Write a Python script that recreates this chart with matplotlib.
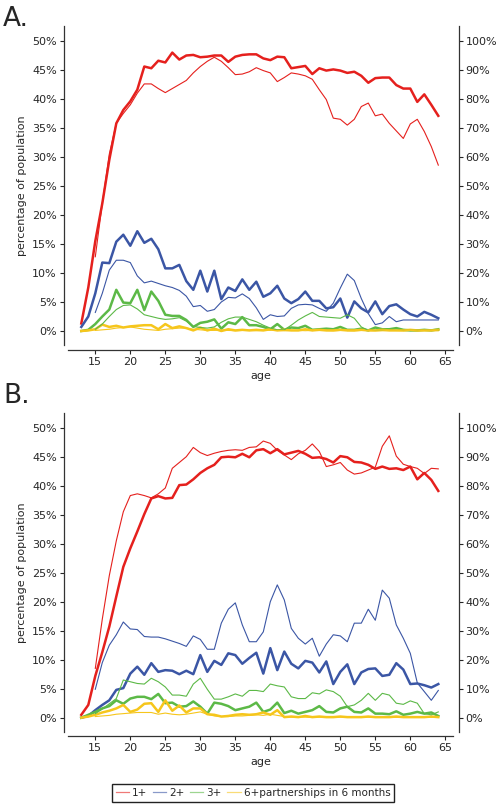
import matplotlib
matplotlib.use("Agg")
from matplotlib import pyplot as plt
from matplotlib.lines import Line2D
from matplotlib.ticker import PercentFormatter

# ages: thick lines start at 13, thin lines at 15
ages = list(range(13, 65))
ages_thin = list(range(15, 65))

labels = ["1+", "2+", "3+", "6+partnerships in 6 months"]
colors = ["#e5201d", "#3b56a5", "#5cb947", "#f6c61c"]

# panel A, thick lines (left axis, %)
a_red = [1.3, 7.5, 15.5, 22, 29.5, 35.8, 38.1, 39.6, 41.6, 45.6,
         45.3, 46.6, 46.3, 48.0, 46.8, 47.5, 47.6, 47.2, 47.3, 47.5,
         47.5, 46.4, 47.3, 47.6, 47.7, 47.7, 47.0, 46.7, 47.3, 47.2,
         45.3, 45.5, 45.7, 44.3, 45.3, 44.9, 45.1, 44.9, 44.5, 44.7,
         44.0, 42.8, 43.6, 43.7, 43.7, 42.4, 41.8, 41.8, 39.5, 40.8,
         39.0, 37.1]
a_blue = [0.7, 2.5, 6.5, 11.8, 11.7, 15.4, 16.6, 14.7, 17.2, 15.2,
          15.9, 14.1, 10.8, 10.8, 11.4, 8.6, 7.1, 10.4, 6.8, 10.4,
          5.5, 7.5, 6.9, 8.9, 7.1, 8.5, 5.9, 6.5, 7.8, 5.6,
          4.8, 5.5, 6.8, 5.2, 5.2, 3.9, 4.1, 5.6, 2.3, 5.1,
          3.9, 3.2, 5.1, 2.9, 4.3, 4.6, 3.7, 2.9, 2.5, 3.3,
          2.8, 2.2]
a_green = [0.0, 0.2, 1.2, 2.5, 3.7, 7.1, 4.9, 4.8, 7.1, 3.6,
           6.8, 5.2, 2.8, 2.6, 2.6, 1.9, 0.7, 1.4, 1.6, 2.0,
           0.4, 1.5, 1.2, 2.4, 1.0, 1.0, 0.7, 0.3, 1.2, 0.2,
           0.6, 0.5, 0.9, 0.2, 0.3, 0.4, 0.3, 0.7, 0.2, 0.2,
           0.4, 0.1, 0.6, 0.3, 0.3, 0.5, 0.2, 0.1, 0.1, 0.2,
           0.1, 0.3]
a_yellow = [0.0, 0.1, 0.3, 1.1, 0.7, 0.9, 0.6, 0.8, 0.9, 1.0,
            1.0, 0.3, 1.2, 0.5, 0.8, 0.5, 0.1, 0.6, 0.1, 0.4,
            0.0, 0.3, 0.1, 0.2, 0.1, 0.2, 0.1, 0.3, 0.1, 0.2,
            0.1, 0.1, 0.3, 0.1, 0.2, 0.1, 0.1, 0.2, 0.1, 0.1,
            0.2, 0.1, 0.1, 0.2, 0.1, 0.1, 0.1, 0.2, 0.1, 0.1,
            0.1, 0.2]

# panel A, thin lines (right axis, %)
a_red_thin = [25.6, 44, 61, 71.6, 75, 78, 82, 85.2, 85.2, 83.6,
              82.2, 83.6, 85, 86.4, 89, 91.2, 93, 94.4, 93, 90.8,
              88.4, 88.6, 89.4, 90.8, 89.8, 89, 86, 87.4, 89, 88.6,
              88, 86.8, 83.2, 79.8, 73.4, 73, 71, 73, 77.4, 78.6,
              74.2, 74.8, 71.6, 69, 66.4, 71.4, 73, 68.8, 63.6, 57.2]
a_blue_thin = [6.4, 13, 21, 24.4, 24.4, 23.6, 19, 16.6, 17.2, 16.4,
               15.6, 15, 14, 12, 8.4, 8.8, 6.8, 7.4, 10, 11.6,
               11.4, 12.8, 11.2, 8, 4, 5.6, 5, 5.2, 7.8, 9,
               9.2, 9, 7.8, 6.8, 9.6, 14.8, 19.6, 17.4, 11.2, 6,
               2.2, 2.8, 5, 3.2, 3.8, 3.8, 3.8, 3.8, 3.8, 3.8]
a_green_thin = [0.6, 2.4, 5, 7.4, 8.8, 9, 7.6, 5.6, 5, 4.4,
                4, 4.2, 4.6, 3.4, 1.6, 1.2, 1, 1.4, 3, 4.2,
                4.8, 4.8, 4, 3.2, 2, 1, 0.4, 0.4, 2, 3.8,
                5.2, 6.4, 5, 4.8, 4.6, 4.4, 5.6, 4.4, 1.4, 0.2,
                0.2, 0.2, 0.2, 0.2, 0.2, 0.2, 0.2, 0.2, 0.2, 0.2]
a_yellow_thin = [0.2, 0.4, 0.6, 1.0, 1.2, 1.4, 1.0, 0.6, 0.4, 0.2,
                 0.6, 0.8, 1.0, 1.0, 0.6, 0.4, 0.2, 0.2, 0.3, 0.2,
                 0.1, 0.2, 0.2, 0.1, 0.2, 0.3, 0.2, 0.1, 0.2, 0.2,
                 0.1, 0.2, 0.3, 0.2, 0.1, 0.2, 0.2, 0.1, 0.2, 0.2,
                 0.1, 0.1, 0.2, 0.2, 0.1, 0.2, 0.1, 0.2, 0.2, 0.1]

# panel B, thick lines (left axis, %)
b_red = [0.5, 2.2, 7.2, 11.3, 15.7, 20.9, 26.0, 29.2, 32.1, 35.1,
         37.8, 38.2, 37.8, 37.9, 40.1, 40.2, 41.1, 42.2, 43.0, 43.6,
         44.9, 45.0, 44.9, 45.5, 44.9, 46.1, 46.3, 45.6, 46.3, 45.4,
         45.7, 46.0, 45.5, 44.8, 44.9, 44.6, 44.0, 45.1, 44.9, 44.1,
         44.0, 43.6, 42.9, 43.3, 42.9, 43.0, 42.7, 43.3, 41.1, 42.2,
         41.0, 39.1]
b_blue = [0.0, 0.3, 1.3, 2.2, 3.0, 4.8, 5.1, 7.6, 8.8, 7.4,
          9.4, 7.9, 8.2, 8.1, 7.5, 8.1, 7.5, 10.8, 7.9, 9.8,
          9.1, 11.1, 10.8, 9.3, 10.3, 11.2, 7.6, 12.0, 8.2, 11.4,
          9.3, 8.5, 9.8, 9.5, 7.8, 9.7, 5.8, 7.9, 9.2, 5.8,
          7.8, 8.4, 8.5, 7.2, 7.4, 9.4, 8.3, 5.8, 5.9, 5.6,
          5.2, 5.8]
b_green = [0.0, 0.5, 1.0, 1.6, 2.0, 3.0, 2.4, 3.3, 3.6, 3.6,
           3.2, 4.1, 2.5, 2.6, 1.9, 2.0, 2.8, 1.9, 0.7, 2.6,
           2.4, 2.0, 1.3, 1.6, 1.9, 2.6, 1.0, 1.4, 2.6, 0.8,
           1.2, 0.7, 1.0, 1.3, 2.0, 1.0, 0.9, 1.6, 1.9, 1.0,
           0.9, 1.6, 0.7, 0.7, 0.6, 1.1, 0.5, 0.7, 1.0, 0.7,
           0.9, 0.3]
b_yellow = [0.0, 0.2, 0.5, 0.9, 1.2, 1.6, 2.2, 1.0, 1.4, 2.4,
            2.5, 1.0, 3.0, 1.2, 2.1, 0.9, 1.6, 1.6, 0.6, 0.5,
            0.2, 0.3, 0.5, 0.6, 0.5, 0.6, 0.9, 0.5, 1.3, 0.1,
            0.2, 0.1, 0.3, 0.1, 0.2, 0.1, 0.1, 0.2, 0.1, 0.1,
            0.1, 0.2, 0.1, 0.1, 0.1, 0.2, 0.1, 0.1, 0.1, 0.1,
            0.2, 0.1]

# panel B, thin lines (right axis, %)
b_red_thin = [17, 34, 49, 61, 71, 76.6, 77.2, 76.6, 75.8, 77.2,
              79.2, 86, 88, 90, 93.2, 91.4, 90.4, 91.2, 91.8, 92.2,
              92.4, 92.2, 93.2, 93.4, 95.4, 94.6, 92.2, 90.6, 89, 91,
              92.2, 94.4, 91.8, 86.6, 87.2, 88, 85.4, 84, 84.4, 85.4,
              86.4, 93.6, 97.2, 90.2, 87.4, 86.6, 86, 84.2, 86, 85.8]
b_blue_thin = [9.8, 19, 25, 28.6, 33, 30.6, 30.4, 28, 27.8, 27.8,
               27.2, 26.4, 25.6, 24.6, 28.2, 27, 23.6, 23.6, 32.6, 37.4,
               39.6, 32, 26.2, 26.2, 29.6, 40, 45.8, 40.6, 30.8, 27.4,
               25.4, 27.4, 21.2, 25.4, 28.6, 28.2, 26.2, 32.6, 32.6, 37.4,
               33.6, 44, 41.2, 32, 27.4, 22.2, 12, 9, 6, 9.4]
b_green_thin = [1.4, 3, 4.8, 6.6, 13, 12.4, 11.8, 11.6, 13.6, 12.4,
                10.6, 7.8, 7.8, 7.4, 11.6, 13.6, 9.8, 6.4, 6.4, 7.2,
                8.2, 7.4, 9.4, 9.4, 9, 11.6, 11, 10.6, 7.2, 6.6,
                6.6, 8.6, 8.2, 9.6, 9, 7.4, 3.8, 4.4, 6, 8.4,
                6, 8.4, 7.8, 5, 4.6, 5.8, 5, 1.4, 1, 2]
b_yellow_thin = [0.4, 0.6, 0.8, 1.2, 1.4, 1.6, 1.8, 1.8, 1.8, 1.2,
                 1.6, 1.2, 1.0, 1.2, 1.6, 2.0, 1.2, 0.6, 0.4, 0.4,
                 0.6, 0.6, 0.8, 1.0, 0.8, 1.2, 0.8, 0.4, 0.2, 0.2,
                 0.2, 0.1, 0.2, 0.2, 0.1, 0.2, 0.2, 0.1, 0.2, 0.2,
                 0.1, 0.2, 0.2, 0.1, 0.2, 0.2, 0.1, 0.2, 0.1, 0.2]

plt.rcParams["font.family"] = "DejaVu Sans"
plt.rcParams["text.color"] = "#262626"
plt.rcParams["axes.labelcolor"] = "#262626"
plt.rcParams["xtick.color"] = "#262626"
plt.rcParams["ytick.color"] = "#262626"

W, H = 499, 805
fig = plt.figure(figsize=(W / 100, H / 100), dpi=100)


def panel(top_px, thick, thin, letter, letter_y):
    ax = fig.add_axes([68 / W, 1 - (top_px + 319) / H, 385 / W, 319 / H])
    ax2 = ax.twinx()
    for vals, c in zip(thick, colors):
        ax.plot(ages, vals, color=c, lw=1.8)
    for vals, c in zip(thin, colors):
        ax2.plot(ages_thin, vals, color=c, lw=0.8)

    ax.set_xlim(11.1, 66.1)
    ax.set_ylim(-2.5, 52.5)
    ax2.set_ylim(-5, 105)
    ax.set_xticks(range(15, 66, 5))
    ax.set_yticks(range(0, 51, 5))
    ax2.set_yticks(range(0, 101, 10))
    ax.yaxis.set_major_formatter(PercentFormatter(decimals=0))
    ax2.yaxis.set_major_formatter(PercentFormatter(decimals=0))

    for a in (ax, ax2):
        a.spines["top"].set_visible(False)
        for s in a.spines.values():
            s.set_color("#333333")
            s.set_linewidth(0.9)
        a.tick_params(labelsize=8, length=3, width=0.8, pad=2)
    ax.spines["right"].set_visible(False)
    ax2.spines["left"].set_visible(False)
    ax2.spines["bottom"].set_visible(False)
    ax.spines["left"].set_position(("outward", 3))
    ax.spines["bottom"].set_position(("outward", 3))
    ax2.spines["right"].set_position(("outward", 4))

    ax.set_xlabel("age", fontsize=8, labelpad=3)
    ax.set_ylabel("percentage of population", fontsize=8, labelpad=4)
    fig.text(0.006, letter_y, letter, fontsize=19, va="baseline")
    return ax


panel(26.5, [a_red, a_blue, a_green, a_yellow],
      [a_red_thin, a_blue_thin, a_green_thin, a_yellow_thin], "A.", 1 - 26 / H)
panel(413.2, [b_red, b_blue, b_green, b_yellow],
      [b_red_thin, b_blue_thin, b_green_thin, b_yellow_thin], "B.", 1 - 403 / H)

handles = [Line2D([], [], color=c, lw=0.9, alpha=0.6) for c in colors]
fig.legend(handles, labels, loc="lower center", bbox_to_anchor=(0.507, 0.004),
           ncol=4, fontsize=7.5, frameon=True, fancybox=False, edgecolor="#222222",
           framealpha=1, handlelength=1.3, handletextpad=0.3, columnspacing=0.5,
           borderpad=0.35, borderaxespad=0)

fig.savefig("out.png", dpi=100)
